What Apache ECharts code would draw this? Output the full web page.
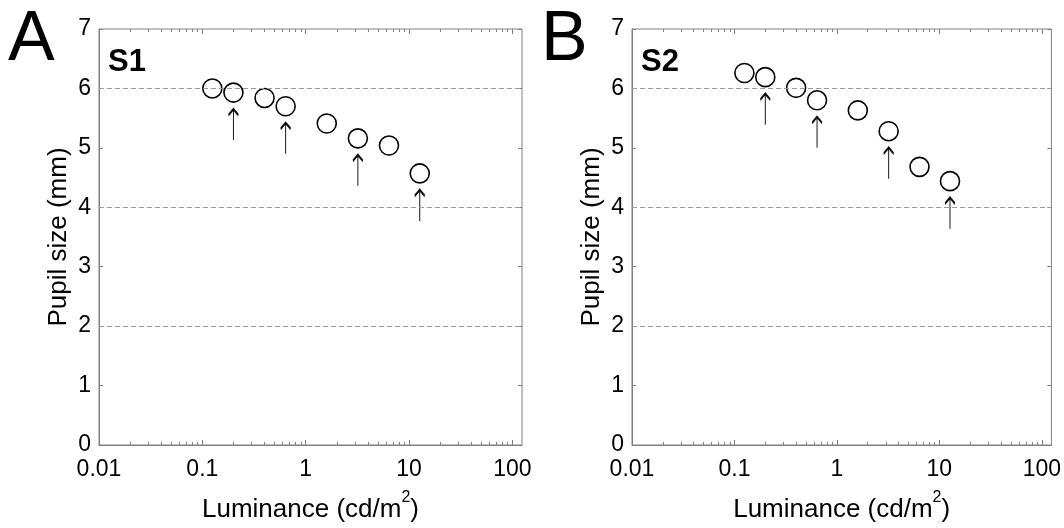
<!DOCTYPE html>
<html><head><meta charset="utf-8">
<script src="https://cdn.jsdelivr.net/npm/echarts@6/dist/echarts.min.js"></script>
<style>html,body{margin:0;padding:0;background:#fff}#c{width:1064px;height:528px}</style>
</head><body><div id="c"></div>
<script>
// ---- data ----
const luminance = [0.125, 0.2, 0.4, 0.64, 1.6, 3.2, 6.4, 12.7];
const pupilS1 = [6.00, 5.93, 5.84, 5.70, 5.41, 5.16, 5.04, 4.57];
const pupilS2 = [6.26, 6.19, 6.01, 5.80, 5.63, 5.28, 4.68, 4.44];
const arrowIdx = [1, 3, 5, 7];
const xTicks = [0.01, 0.1, 1, 10, 100];
const xMinorTicks = [0.02, 0.03, 0.04, 0.05, 0.06, 0.07, 0.08, 0.09,
                     0.2, 0.3, 0.4, 0.5, 0.6, 0.7, 0.8, 0.9,
                     2, 3, 4, 5, 6, 7, 8, 9,
                     20, 30, 40, 50, 60, 70, 80, 90];
const yTicks = [0, 1, 2, 3, 4, 5, 6, 7];
const dashedLevels = [2, 4, 6];
const panelLetters = ['A', 'B'];
const subjects = ['S1', 'S2'];
const panelValues = [pupilS1, pupilS2];

// ---- layout / style ----
const FONT = "'Liberation Sans', Arial, sans-serif";
const AX = '#808080';
const grids = [
  { left: 99, top: 29, width: 423, height: 422 },
  { left: 632, top: 29, width: 423, height: 422 }
];
const XMIN = 0.01, XMAX = 124;

const arrowPath = 'path://M5,0 L5,31 M0.5,6 L5,0 L9.5,6';

const option = { animation: false, grid: [], xAxis: [], yAxis: [], series: [], graphic: [] };

grids.forEach((g, gi) => {
  option.grid.push(Object.assign({ show: true, borderColor: AX, borderWidth: 1, backgroundColor: 'transparent' }, g));
  const base = { type: 'log', logBase: 10, gridIndex: gi, min: XMIN, max: XMAX, splitLine: { show: false } };
  option.xAxis.push(Object.assign({}, base, {
    position: 'bottom',
    axisLine: { show: true, lineStyle: { color: AX, width: 1 } },
    axisTick: { show: true, inside: true, length: 5, customValues: xTicks, lineStyle: { color: AX } },
    axisLabel: { show: true, customValues: xTicks, color: '#000', fontSize: 23, fontFamily: FONT, margin: 13,
                 formatter: v => String(v) },
    name: '{t|Luminance (cd/m}{s|2}{t|)}', nameLocation: 'middle', nameGap: 45,
    nameTextStyle: { rich: {
      t: { fontSize: 26, fontFamily: FONT, color: '#000', lineHeight: 40 },
      s: { fontSize: 16, fontFamily: FONT, color: '#000', verticalAlign: 'top', lineHeight: 16 }
    } }
  }));
  option.xAxis.push(Object.assign({}, base, {
    position: 'bottom', axisLine: { show: false },
    axisTick: { show: true, inside: true, length: 3, customValues: xMinorTicks, lineStyle: { color: AX } },
    axisLabel: { show: false }
  }));
  option.xAxis.push(Object.assign({}, base, {
    position: 'top', axisLine: { show: false },
    axisTick: { show: true, inside: true, length: 5, customValues: xTicks, lineStyle: { color: AX } },
    axisLabel: { show: false }
  }));
  option.xAxis.push(Object.assign({}, base, {
    position: 'top', axisLine: { show: false },
    axisTick: { show: true, inside: true, length: 3, customValues: xMinorTicks, lineStyle: { color: AX } },
    axisLabel: { show: false }
  }));

  const ybase = { type: 'value', gridIndex: gi, min: 0, max: 7, interval: 1, splitLine: { show: false } };
  option.yAxis.push(Object.assign({}, ybase, {
    position: 'left',
    axisLine: { show: true, lineStyle: { color: AX, width: 1 } },
    axisTick: { show: true, inside: true, length: 4, lineStyle: { color: AX } },
    axisLabel: { show: true, customValues: yTicks, color: '#000', fontSize: 23, fontFamily: FONT, margin: 8 },
    name: 'Pupil size (mm)', nameLocation: 'middle', nameGap: 27,
    nameTextStyle: { fontSize: 26, fontFamily: FONT, color: '#000' }
  }));
  option.yAxis.push(Object.assign({}, ybase, {
    position: 'right', axisLine: { show: false },
    axisTick: { show: true, inside: true, length: 4, lineStyle: { color: AX } },
    axisLabel: { show: false }
  }));

  const vals = panelValues[gi];
  const pts = luminance.map((x, i) => [x, vals[i]]);
  option.series.push({
    type: 'scatter', xAxisIndex: gi * 4, yAxisIndex: gi * 2,
    data: pts, symbol: 'circle', symbolSize: 19,
    itemStyle: { color: '#fff', borderColor: '#000', borderWidth: 1.6, opacity: 1 },
    z: 3,
    markLine: {
      silent: true, symbol: 'none', label: { show: false },
      lineStyle: { color: '#9a9a9a', type: [5, 3], width: 1 },
      data: dashedLevels.map(v => ({ yAxis: v }))
    }
  });
  option.series.push({
    type: 'scatter', xAxisIndex: gi * 4, yAxisIndex: gi * 2,
    data: arrowIdx.map(i => [luminance[i], vals[i]]),
    symbol: arrowPath, symbolSize: [10, 31], symbolKeepAspect: false, symbolOffset: [0, 32],
    itemStyle: { color: 'rgba(0,0,0,0)', borderColor: '#111', borderWidth: 1.7, opacity: 1 },
    z: 2
  });

  option.graphic.push({
    type: 'text', left: g.left - 91, top: 6,
    style: { text: panelLetters[gi], font: '70px ' + FONT, fill: '#000' }
  });
  option.graphic.push({
    type: 'text', left: g.left + 9, top: 47,
    style: { text: subjects[gi], font: 'bold 31px ' + FONT, fill: '#000' }
  });
});

const chart = echarts.init(document.getElementById('c'), null, { renderer: 'canvas' });
chart.setOption(option);
</script>
</body></html>
